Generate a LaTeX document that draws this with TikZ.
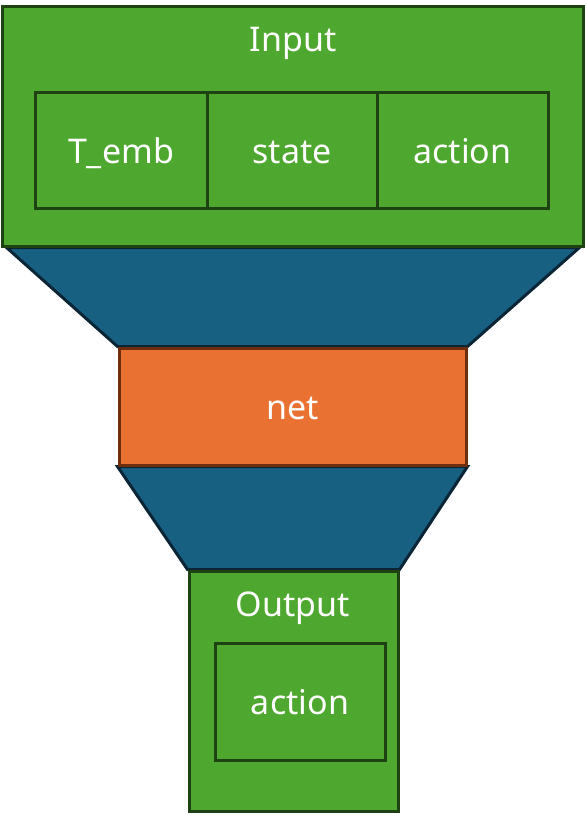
\documentclass[tikz,border=0pt]{standalone}
\usepackage{fontspec}
\setmainfont{Noto Sans}
\usepackage{tikz}
\usetikzlibrary{backgrounds}
\definecolor{igreen} {RGB}{78,167,46}
\definecolor{dgreen} {RGB}{30,66,18}
\definecolor{fblue}  {RGB}{23,96,130}
\definecolor{dblue}  {RGB}{10,38,54}
\definecolor{norange}{RGB}{233,113,50}
\definecolor{dorange}{RGB}{110,46,14}
\tikzset{
    layerbox/.style={draw=dgreen, fill=igreen, line width=3pt, inner sep=0pt,
             text=white, font=\fontsize{34}{40}\selectfont, text height=30pt, text depth=4pt},
    netbox/.style={draw=dorange, fill=norange, line width=3pt, inner sep=0pt,
             text=white, font=\fontsize{34}{40}\selectfont, text height=30pt, text depth=4pt},
    funnel/.style={draw=dblue, fill=fblue, line width=3pt, line join=miter},
    txt/.style={text=white, font=\fontsize{34}{40}\selectfont, inner sep=0pt, anchor=base}
  }
\begin{document}
\begin{tikzpicture}[x=1pt, y=-1pt]
 \useasboundingbox (0,0) rectangle (585,814);
 %Input block
     \node[layerbox, minimum width=581, minimum height=240] (inbox) at (292.5,126) {};
     \node[txt] (inlabel) at (293,51) {Input};
     \node[layerbox, minimum width=172, minimum height=116] (temb) at (121,150) {T\_emb};
     \node[layerbox, minimum width=170, minimum height=116] (state) at (292,150) {state};
     \node[layerbox, minimum width=171, minimum height=116] (actin) at (462.5,150) {action};
 %net
     \node[netbox, minimum width=347, minimum height=117] (net) at (292.5,406.5) {net};
 %Output block
     \node[layerbox, minimum width=209, minimum height=240] (outbox) at (293.5,691) {};
     \node[txt] (outlabel) at (293,616) {Output};
     \node[layerbox, minimum width=170, minimum height=117] (actout) at (300,701.5) {action};
 % funnels
 \begin{scope}[on background layer]
     \draw[funnel] ([xshift=6pt]inbox.south west) -- (net.north west)
                   -- (net.north east) -- ([xshift=-5pt]inbox.south east) -- cycle;
     \draw[funnel] (net.south west) -- (outbox.north west)
                   -- (outbox.north east) -- (net.south east) -- cycle;
 \end{scope}
\end{tikzpicture}
\end{document}
